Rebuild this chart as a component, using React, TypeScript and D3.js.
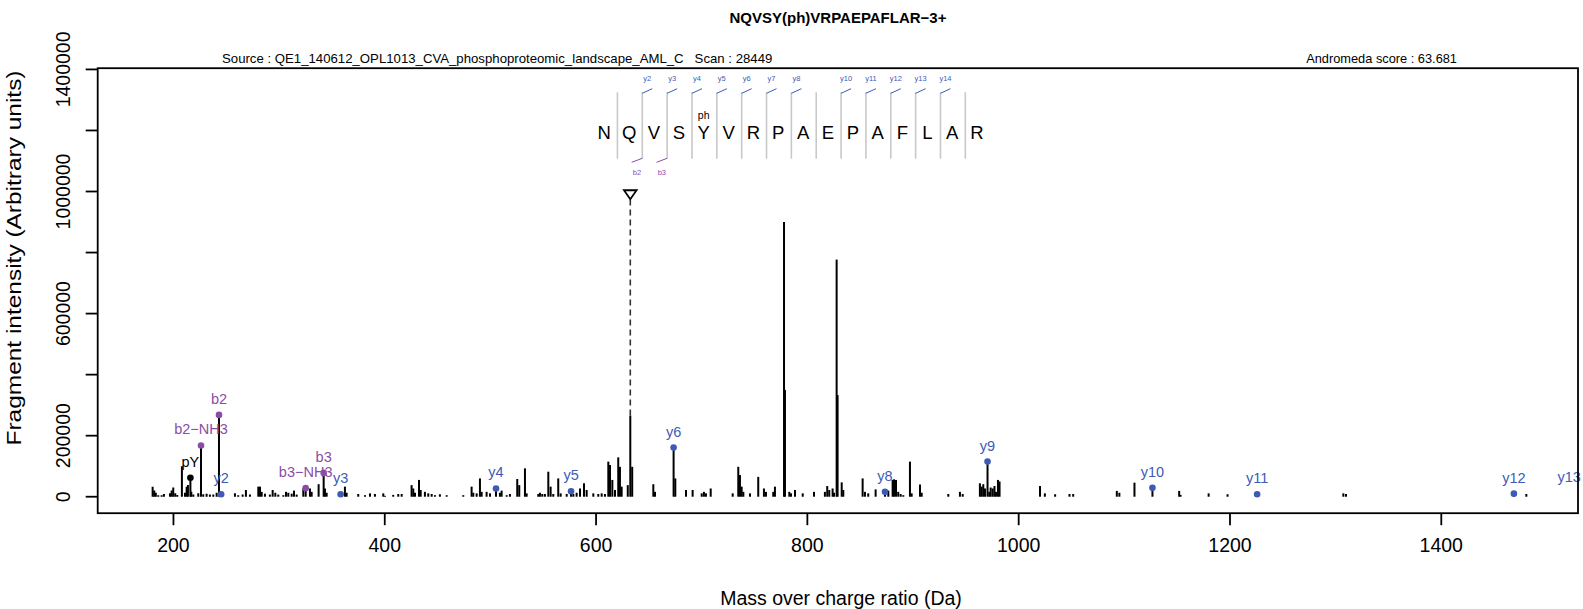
import React from 'react';
import * as d3 from 'd3';

// ---------- data ----------
const peakMz = [
  180.3, 181.8, 183.3, 185.6, 188.8, 191.0, 196.7, 198.3, 199.8, 201.7, 203.6, 208.0, 210.9, 212.5, 213.7,
  216.9, 218.8, 223.5, 228.2, 231.4, 234.5, 237.7, 240.9, 258.2, 261.3, 265.5, 268.6, 272.4, 280.3, 281.9,
  283.5, 286.6, 291.3, 293.9, 296.4, 299.2, 304.0, 306.5, 308.7, 311.9, 314.1, 316.6, 322.9, 329.2, 330.8,
  337.4, 343.4, 345.0, 362.3, 363.9, 374.9, 381.3, 386.0, 390.7, 398.6, 400.2, 408.0, 412.8, 416.0, 425.4,
  427.0, 428.6, 432.4, 434.0, 438.0, 441.2, 444.4, 447.5, 452.2, 458.6, 474.3, 482.2, 483.8, 487.0, 490.1,
  491.7, 496.4, 499.6, 509.0, 510.6, 515.4, 518.5, 525.4, 527.3, 532.7, 534.3, 545.3, 546.9, 549.1, 551.6,
  554.8, 557.0, 559.5, 564.2, 566.5, 572.2, 578.5, 581.6, 584.8, 588.6, 591.1, 597.4, 602.1, 605.3, 608.4,
  611.6, 613.2, 615.4, 617.9, 621.0, 622.6, 624.2, 630.0, 632.4, 634.2, 654.2, 655.8, 675.0, 685.1, 691.4,
  700.0, 702.1, 704.0, 708.5, 729.3, 734.6, 736.2, 737.8, 739.4, 745.7, 753.5, 758.9, 760.8, 767.7, 769.3,
  777.9, 778.8, 782.9, 784.5, 788.3, 795.6, 806.3, 816.6, 818.8, 820.7, 823.9, 825.2, 827.7, 828.6, 832.5,
  834.0, 852.3, 854.5, 857.6, 864.6, 876.6, 880.7, 882.0, 883.9, 886.0, 888.3, 890.8, 897.1, 898.7, 906.6,
  908.2, 933.4, 944.4, 947.0, 963.3, 964.9, 966.5, 968.1, 972.2, 973.5, 975.4, 977.1, 978.5, 980.4, 981.9,
  1020.2, 1024.8, 1034.5, 1048.1, 1051.6, 1092.9, 1095.3, 1109.6, 1151.9, 1153.2, 1179.8, 1197.7, 1307.3, 1309.8, 1480.5,
];
const peakIntK = [
  33, 20, 13, 5, 5, 9, 11, 20, 30, 11, 6, 100, 13, 33, 38,
  16, 7, 11, 8, 10, 7, 7, 13, 11, 5, 7, 22, 7, 33, 33,
  16, 10, 7, 22, 13, 7, 5, 16, 13, 10, 20, 7, 27, 27, 16,
  41, 27, 13, 33, 13, 9, 5, 11, 9, 11, 3, 6, 9, 9, 38,
  27, 13, 55, 22, 16, 11, 9, 5, 8, 5, 5, 33, 13, 11, 60,
  16, 16, 11, 13, 20, 5, 9, 58, 38, 93, 11, 9, 13, 9, 9,
  82, 33, 9, 60, 11, 9, 9, 13, 27, 44, 22, 11, 9, 11, 9,
  115, 104, 55, 22, 129, 98, 33, 38, 266, 98, 41, 16, 60, 22, 22,
  11, 16, 11, 27, 11, 98, 71, 33, 16, 11, 65, 27, 16, 16, 33,
  900, 350, 16, 11, 22, 11, 16, 16, 35, 22, 27, 13, 777, 333, 47,
  22, 60, 16, 11, 24, 20, 55, 57, 55, 16, 9, 5, 115, 11, 40,
  13, 9, 16, 9, 44, 33, 41, 27, 16, 30, 27, 35, 16, 55, 50,
  35, 11, 8, 9, 9, 19, 13, 46, 19, 6, 11, 8, 11, 9, 9,
];

const annLabel = ['pY', 'b2\u2212NH3', 'b2', 'y2', 'b3\u2212NH3', 'b3', 'y3', 'y4', 'y5', 'y6', 'y8', 'y9', 'y10', 'y11', 'y12', 'y13\u2212NH3'];
const annType = ['o', 'b', 'b', 'y', 'b', 'b', 'y', 'y', 'y', 'y', 'y', 'y', 'y', 'y', 'y', 'y'];
const annMz = [216.04, 226.08, 243.09, 245.15, 325.14, 342.17, 358.23, 505.3, 576.34, 673.39, 873.47, 970.52, 1126.62, 1225.69, 1468.72, 1538.7];
const annIntK = [62, 168, 268, 8, 28, 78, 8, 27, 18, 161, 16, 115, 29, 8, 10, 13];

const precursorMz = 632.4;
const precursorIntK = 266;

const xTicks = [200, 400, 600, 800, 1000, 1200, 1400];
const yTicks = [0, 200000, 400000, 600000, 800000, 1000000, 1200000, 1400000];
const yTickLabels = [0, 200000, 600000, 1000000, 1400000];

const sequence = ['N', 'Q', 'V', 'S', 'Y', 'V', 'R', 'P', 'A', 'E', 'P', 'A', 'F', 'L', 'A', 'R'];
const yIonSep = [1, 2, 3, 4, 5, 6, 7, 9, 10, 11, 12, 13];
const yIonName = ['y2', 'y3', 'y4', 'y5', 'y6', 'y7', 'y8', 'y10', 'y11', 'y12', 'y13', 'y14'];
const bIonSep = [1, 2];
const bIonName = ['b2', 'b3'];
const modIndex = 4;
const modText = 'ph';

const titleText = 'NQVSY(ph)VRPAEPAFLAR\u22123+';
const sourceText = 'Source : QE1_140612_OPL1013_CVA_phosphoproteomic_landscape_AML_C   Scan : 28449';
const scoreText = 'Andromeda score : 63.681';
const xLabel = 'Mass over charge ratio (Da)';
const yLabel = 'Fragment intensity (Arbitrary units)';

// ---------- layout ----------
const W = 1583;
const H = 609;
const BOX = { left: 97.7, right: 1578, top: 68.2, bottom: 513.2 };
const X_DOMAIN = [128.3, 1529.4];
const Y_DOMAIN = [-54000, 1404000];
const BLUE = '#3d5bb5';
const PURPLE = '#8a4ca7';
const FONT = "'Liberation Sans', Arial, Helvetica, sans-serif";

const SEQ_X0 = 604.3;
const SEQ_DX = 24.85;

export default function App() {
  const x = d3.scaleLinear().domain(X_DOMAIN).range([BOX.left, BOX.right]);
  const y = d3.scaleLinear().domain(Y_DOMAIN).range([BOX.bottom, BOX.top]);
  const maxInt = d3.max(peakIntK)! * 1000;
  const colorOf = (t: string) => (t === 'b' ? PURPLE : t === 'y' ? BLUE : '#000');

  const seqTop = 92.3;
  const seqBottom = 158.7;
  // separator j lies between letter j and letter j+1 (0-based)
  const sepX = (j: number) => SEQ_X0 + (j + 0.5) * SEQ_DX + 0.7;

  const px = x(precursorMz);
  const markerY = y(maxInt * 1.1);

  return (
    <svg
      width={W}
      height={H}
      style={{ position: 'absolute', left: 0, top: 0, background: '#fff' }}
      fontFamily={FONT}
    >
      <defs>
        <clipPath id="plotclip">
          <rect x={BOX.left} y={BOX.top - 40} width={BOX.right - BOX.left + 3} height={BOX.bottom - BOX.top + 40} />
        </clipPath>
      </defs>
      <rect x={0} y={0} width={W} height={H} fill="#fff" />

      {/* title & subtitles */}
      <text x={838} y={23} textAnchor="middle" fontSize={15} fontWeight="bold">{titleText}</text>
      <text x={222} y={63} fontSize={13.2} style={{ whiteSpace: 'pre' }}>{sourceText}</text>
      <text x={1457} y={63} fontSize={12.8} textAnchor="end">{scoreText}</text>

      {/* peaks */}
      <g clipPath="url(#plotclip)">
        {peakMz.map((m, i) => (
          <line key={'p' + i} x1={x(m)} x2={x(m)} y1={y(0)} y2={y(peakIntK[i] * 1000)} stroke="#000" strokeWidth={2} />
        ))}
        {annMz.map((m, i) => (
          <line key={'al' + i} x1={x(m)} x2={x(m)} y1={y(0)} y2={y(annIntK[i] * 1000)} stroke="#000" strokeWidth={2} />
        ))}
        {annMz.map((m, i) => (
          <circle key={'ad' + i} cx={x(m)} cy={y(annIntK[i] * 1000)} r={3.3} fill={colorOf(annType[i])} />
        ))}
        {annMz.map((m, i) => (
          <text
            key={'at' + i}
            x={x(m)}
            y={y(annIntK[i] * 1000) - 11}
            textAnchor="middle"
            fontSize={14.5}
            fill={colorOf(annType[i])}
          >
            {annLabel[i]}
          </text>
        ))}
        {/* precursor */}
        <line x1={px} x2={px} y1={markerY + 5} y2={y(precursorIntK * 1000)} stroke="#333" strokeWidth={1.6} strokeDasharray="6 4" />
        <path
          d={`M${px - 6.3},${markerY - 4.3} L${px + 6.3},${markerY - 4.3} L${px},${markerY + 4.6} Z`}
          fill="none"
          stroke="#000"
          strokeWidth={1.8}
        />
      </g>

      {/* sequence */}
      {sequence.map((s, i) => (
        <text key={'s' + i} x={SEQ_X0 + i * SEQ_DX} y={139} textAnchor="middle" fontSize={18.5}>{s}</text>
      ))}
      {sequence.slice(1).map((_, j) => (
        <line
          key={'sep' + j}
          x1={sepX(j)}
          x2={sepX(j)}
          y1={seqTop}
          y2={seqBottom}
          stroke="#c8c8c8"
          strokeWidth={1.6}
        />
      ))}
      {yIonSep.map((j, k) => {
        const sx = sepX(j);
        return (
          <g key={'yi' + k}>
            <line x1={sx} y1={seqTop + 1} x2={sx + 10} y2={seqTop - 3.6} stroke={BLUE} strokeWidth={1} />
            <text x={sx + 5} y={80.8} textAnchor="middle" fontSize={7.5} fill={BLUE}>{yIonName[k]}</text>
          </g>
        );
      })}
      {bIonSep.map((j, k) => {
        const sx = sepX(j);
        return (
          <g key={'bi' + k}>
            <line x1={sx} y1={seqBottom - 0.4} x2={sx - 10.6} y2={seqBottom + 3.6} stroke={PURPLE} strokeWidth={1} />
            <text x={sx - 5.3} y={175} textAnchor="middle" fontSize={7.5} fill={PURPLE}>{bIonName[k]}</text>
          </g>
        );
      })}
      <text x={SEQ_X0 + modIndex * SEQ_DX} y={118.5} textAnchor="middle" fontSize={10.5}>{modText}</text>

      {/* box */}
      <rect x={BOX.left} y={BOX.top} width={BOX.right - BOX.left} height={BOX.bottom - BOX.top} fill="none" stroke="#000" strokeWidth={1.8} />

      {/* x axis */}
      {xTicks.map((t) => (
        <g key={'xt' + t}>
          <line x1={x(t)} x2={x(t)} y1={BOX.bottom} y2={BOX.bottom + 12} stroke="#000" strokeWidth={1.8} />
          <text x={x(t)} y={552} textAnchor="middle" fontSize={19.5}>{t}</text>
        </g>
      ))}
      <text x={841} y={605} textAnchor="middle" fontSize={19.5}>{xLabel}</text>

      {/* y axis */}
      {yTicks.map((t) => (
        <line key={'yt' + t} x1={BOX.left - 12} x2={BOX.left} y1={y(t)} y2={y(t)} stroke="#000" strokeWidth={1.8} />
      ))}
      {yTickLabels.map((t) => (
        <text key={'yl' + t} transform={`translate(70,${y(t)}) rotate(-90)`} textAnchor="middle" fontSize={19.5}>{t}</text>
      ))}
      <text
        transform={`translate(21,258) rotate(-90)`}
        textAnchor="middle"
        fontSize={19.5}
        textLength={375}
        lengthAdjust="spacingAndGlyphs"
      >
        {yLabel}
      </text>
    </svg>
  );
}
